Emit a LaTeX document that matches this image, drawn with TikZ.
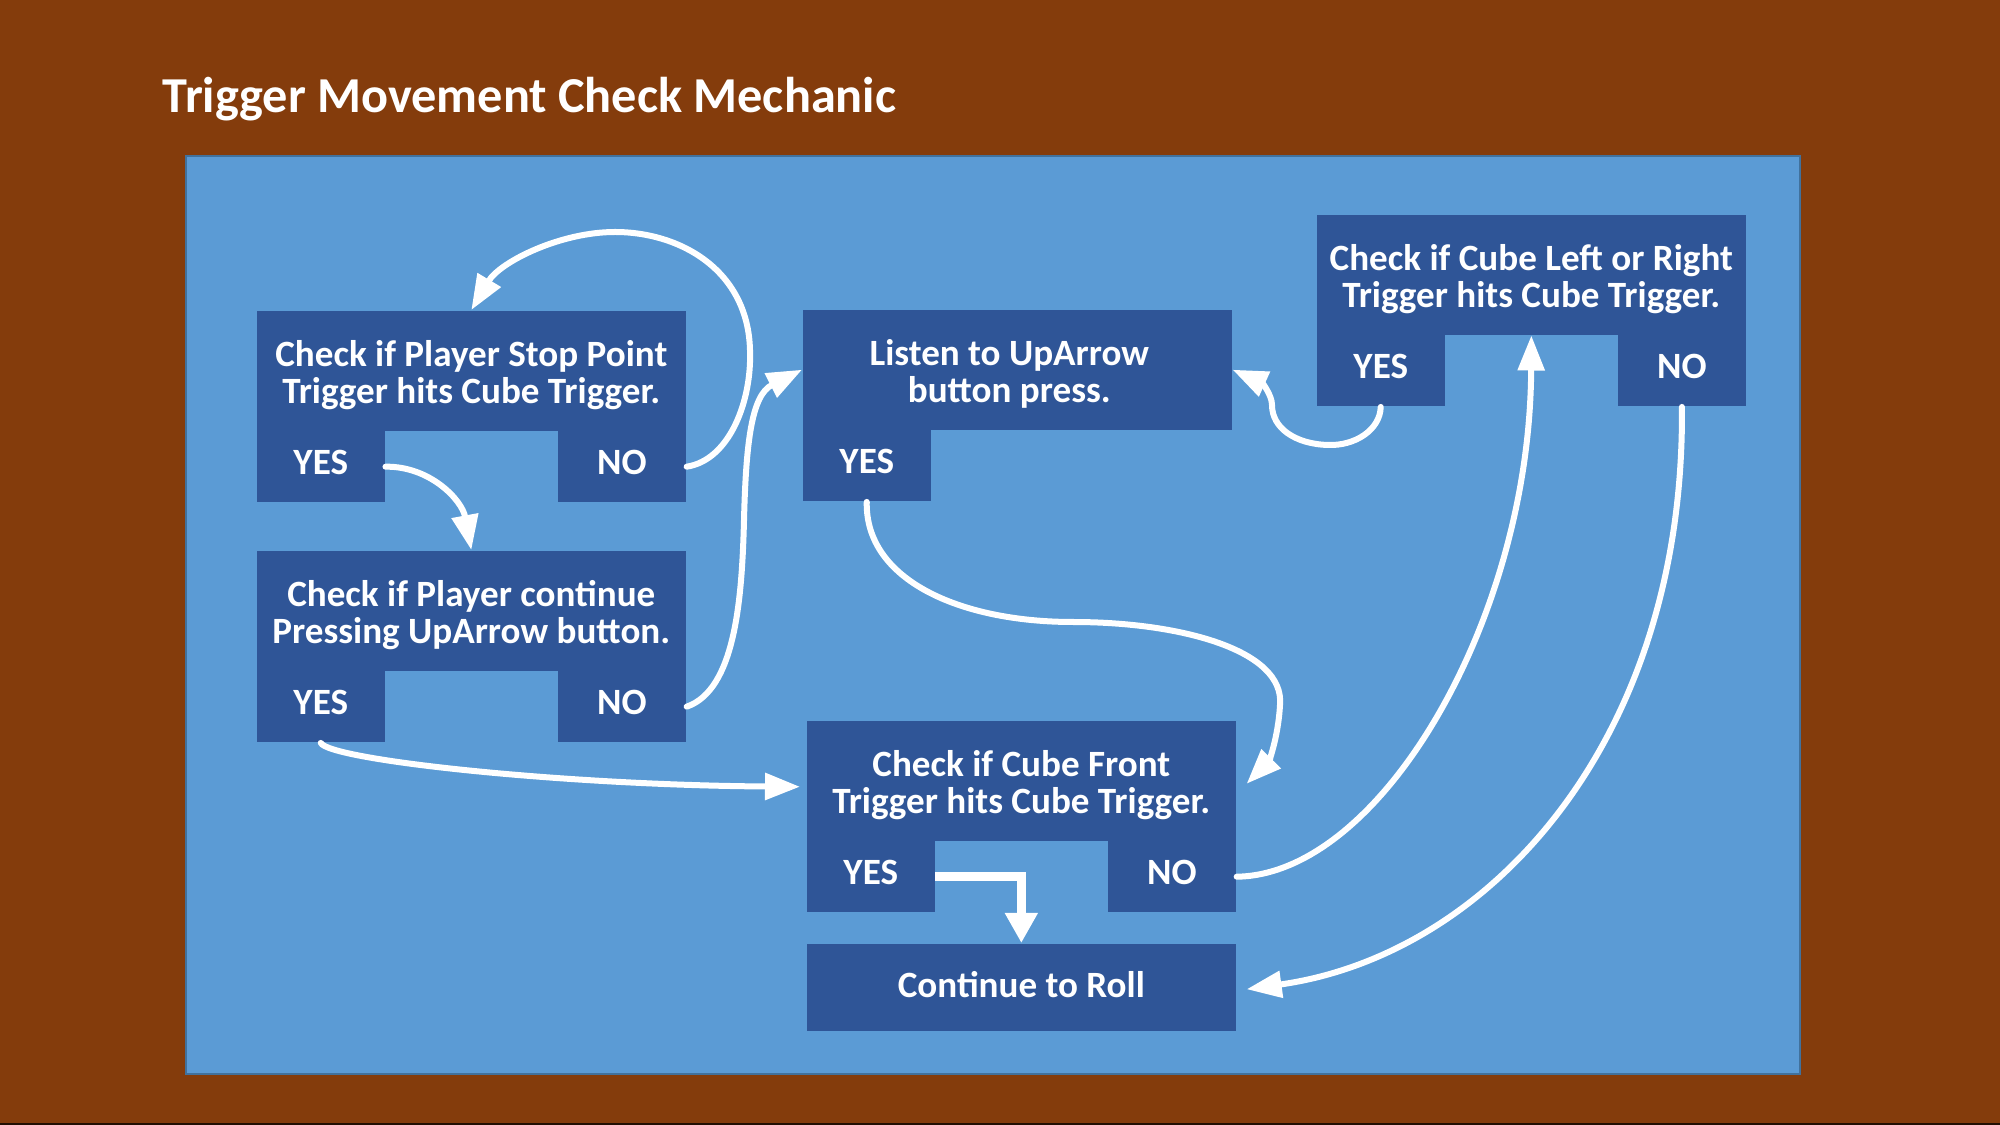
\documentclass[tikz,border=0pt]{standalone}
\usepackage{fontspec}
\setmainfont{Carlito}
\usetikzlibrary{arrows.meta,calc}
\definecolor{bgbrown}{RGB}{132,60,12}
\definecolor{panelblue}{RGB}{91,155,213}
\definecolor{panelline}{RGB}{65,113,156}
\definecolor{boxblue}{RGB}{47,85,151}
\newcommand{\toppad}{\rule{0pt}{9.9pt}}
\begin{document}
\begin{tikzpicture}[x=0.01cm,y=-0.01cm,
  box/.style={fill=boxblue, inner sep=0pt, text=white,
    font=\bfseries\fontsize{10.55}{10.4}\selectfont, align=center},
  rectbox/.style={box, minimum width=4.29cm, minimum height=1.2cm, anchor=north west},
  topbox/.style={rectbox},
  tabbox/.style={box, minimum width=1.28cm, minimum height=0.71cm,
    execute at begin node={\rule[-2.6pt]{0pt}{2.6pt}}},
  conn/.style={draw=white, line width=0.06cm, line cap=round,
    -{Triangle[length=0.35cm,width=0.26cm]}},
  elbow/.style={draw=white, line width=0.095cm,
    -{Triangle[length=0.30cm,width=0.31cm]}}]
\useasboundingbox (0,0) rectangle (2000,1125);
\fill[bgbrown] (0,0) rectangle (2000,1125);
\fill[black!75!bgbrown] (0,1123) rectangle (2000,1125);
\draw[fill=panelblue, draw=panelline, line width=0.02cm] (186,156) rectangle (1800,1074);

\node[anchor=base west, inner sep=0pt, text=white, font=\bfseries\fontsize{14.3}{16}\selectfont] (title) at (162,113) {Trigger Movement Check Mechanic};

% Box A
\node[topbox] (a) at (256,310) {\toppad Check if Player Stop Point\\Trigger hits Cube Trigger.};
\node[tabbox, anchor=north west] (ay) at ($(a.south west)+(0,-1)$) {YES};
\node[tabbox, anchor=north east] (an) at ($(a.south east)+(0,-1)$) {NO};
% Box C
\node[topbox] (c) at (256,550) {\toppad Check if Player continue\\Pressing UpArrow button.};
\node[tabbox, anchor=north west] (cy) at ($(c.south west)+(0,-1)$) {YES};
\node[tabbox, anchor=north east] (cn) at ($(c.south east)+(0,-1)$) {NO};
% Box B
\node[topbox] (b) at (802,309) {\toppad Listen to UpArrow\hspace*{0.16cm}\\button press.\hspace*{0.16cm}};
\node[tabbox, anchor=north west] (by) at ($(b.south west)+(0,-1)$) {YES};
% Box D
\node[topbox] (d) at (1316,214) {\toppad Check if Cube Left or Right\\Trigger hits Cube Trigger.};
\node[tabbox, anchor=north west] (dy) at ($(d.south west)+(0,-1)$) {YES};
\node[tabbox, anchor=north east] (dn) at ($(d.south east)+(0,-1)$) {NO};
% Box E
\node[topbox] (e) at (806,720) {\toppad Check if Cube Front\\Trigger hits Cube Trigger.};
\node[tabbox, anchor=north west] (ey) at ($(e.south west)+(0,-1)$) {YES};
\node[tabbox, anchor=north east] (en) at ($(e.south east)+(0,-1)$) {NO};
% Box F
\node[rectbox, minimum height=0.87cm, execute at begin node={\rule[-1.5pt]{0pt}{1.5pt}}] (f) at (806,943) {Continue to Roll};

% Connectors
\draw[conn] (an.east) .. controls (730,460) and (752,400) .. (750,350)
  .. controls (748,270) and (680,232) .. (615,232)
  .. controls (560,232) and (500,262) .. (a.north);
\draw[conn] (ay.east) .. controls (430,466) and (462,500) .. (c.north);
\draw[conn] (cn.east) .. controls (735,690) and (742,600) .. (744,520)
  .. controls (746,440) and (752,395) .. (b.west);
\draw[conn] (cy.south) .. controls (330,760) and (560,785) .. ($(e.west)+(-6,6)$);
\draw[conn] (by.south) .. controls (865,580) and (960,622) .. (1073,622)
  .. controls (1180,622) and (1285,650) .. (1280,705)
  .. controls (1278,740) and (1268,762) .. ($(e.east)+(10,3)$);
\draw[conn] (dy.south) .. controls (1380,430) and (1355,446) .. (1328,445)
  .. controls (1295,444) and (1272,428) .. (1272,405)
  .. controls (1272,395) and (1262,383) .. (b.east);
\draw[conn] (en.east) .. controls (1380,875) and (1530,620) .. (d.south);
\draw[conn] (dn.south) .. controls (1685,740) and (1490,955) .. ($(f.east)+(10,2)$);
\draw[elbow] (ey.east) -| (f.north);
\end{tikzpicture}
\end{document}
